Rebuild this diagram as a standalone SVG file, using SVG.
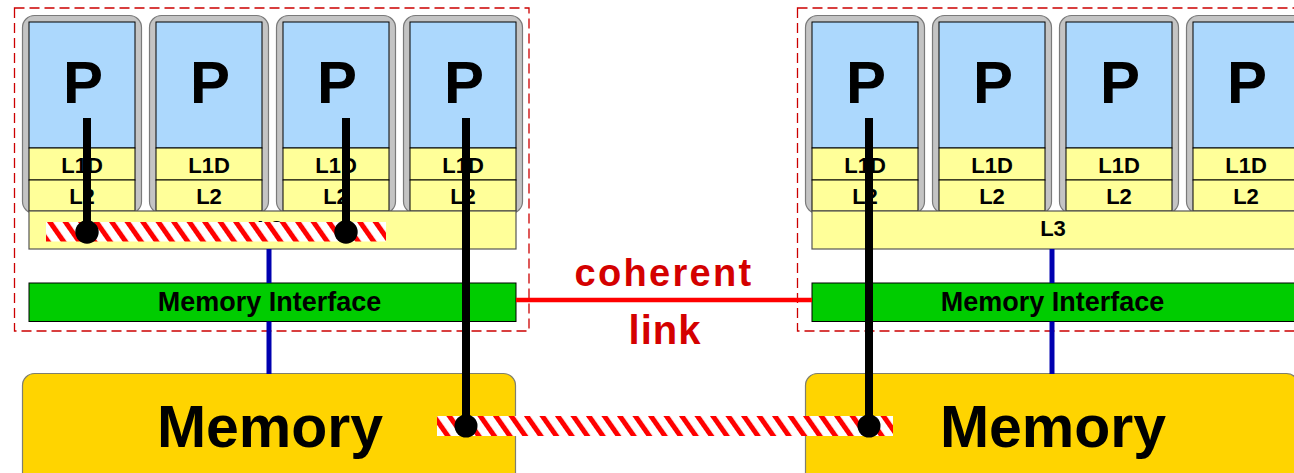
<svg xmlns="http://www.w3.org/2000/svg" width="1294" height="473" viewBox="0 0 1294 473">
<defs>
<pattern id="hatch" width="12.7" height="12.7" patternUnits="userSpaceOnUse" patternTransform="rotate(-35)">
<rect width="12.7" height="12.7" fill="#ffffff"/>
<rect width="5" height="12.7" fill="#ff0000"/>
</pattern>
<style>
text{font-family:"Liberation Sans",Arial,Helvetica,sans-serif;font-weight:bold;text-anchor:middle;fill:#000}
.chip{fill:none;stroke:#cc0000;stroke-width:1.3;stroke-dasharray:10 5}
.card{fill:#c4c4c4;stroke:#7a7a7a;stroke-width:1.2}
.core{fill:#acd8fd;stroke:#000;stroke-width:1}
.cache{fill:#ffff99;stroke:#000;stroke-width:1}
.l3{fill:#ffff99;stroke:#555;stroke-width:1.2}
.mif{fill:#00cc00;stroke:#000;stroke-width:1}
.mem{fill:#ffd400;stroke:#7f7f6f;stroke-width:1.2}
.p{font-size:60px}
.c{font-size:22px}
.mi{font-size:27px}
.mt{font-size:59px}
.lab{font-size:38px;fill:#d40000;letter-spacing:2.3px}
.bus{stroke:#0000b0;stroke-width:5}
.link{stroke:#ff0000;stroke-width:4.5}
.path{stroke:#000;stroke-width:8}
.hatch{fill:url(#hatch)}
</style>
</defs>

<g id="chip-left">
<rect class="chip" x="14.5" y="8" width="514.5" height="323"/>
</g>
<g id="chip-right">
<rect class="chip" x="797.5" y="8" width="514.5" height="323"/>
</g>

<g id="cpu-l0">
<rect class="card" x="22.5" y="15.5" width="119" height="198" rx="12"/>
<rect class="core" x="29" y="22" width="106" height="126"/>
<rect class="cache" x="29" y="148" width="106" height="32"/>
<rect class="cache" x="29" y="180" width="106" height="31"/>
<text class="p" x="83" y="103">P</text>
<text class="c" x="82" y="173">L1D</text>
<text class="c" x="82" y="204">L2</text>
</g>
<g id="cpu-l1">
<rect class="card" x="149.5" y="15.5" width="119" height="198" rx="12"/>
<rect class="core" x="156" y="22" width="106" height="126"/>
<rect class="cache" x="156" y="148" width="106" height="32"/>
<rect class="cache" x="156" y="180" width="106" height="31"/>
<text class="p" x="210" y="103">P</text>
<text class="c" x="209" y="173">L1D</text>
<text class="c" x="209" y="204">L2</text>
</g>
<g id="cpu-l2">
<rect class="card" x="276.5" y="15.5" width="119" height="198" rx="12"/>
<rect class="core" x="283" y="22" width="106" height="126"/>
<rect class="cache" x="283" y="148" width="106" height="32"/>
<rect class="cache" x="283" y="180" width="106" height="31"/>
<text class="p" x="337" y="103">P</text>
<text class="c" x="336" y="173">L1D</text>
<text class="c" x="336" y="204">L2</text>
</g>
<g id="cpu-l3">
<rect class="card" x="403.5" y="15.5" width="119" height="198" rx="12"/>
<rect class="core" x="410" y="22" width="106" height="126"/>
<rect class="cache" x="410" y="148" width="106" height="32"/>
<rect class="cache" x="410" y="180" width="106" height="31"/>
<text class="p" x="464" y="103">P</text>
<text class="c" x="463" y="173">L1D</text>
<text class="c" x="463" y="204">L2</text>
</g>
<g id="l3-left">
<rect class="l3" x="29" y="211" width="487" height="38"/>
<text class="c" x="270" y="236">L3</text>
</g>
<g id="mif-left">
<rect class="mif" x="29" y="283" width="487" height="38.5"/>
<text class="mi" x="269.5" y="310.5">Memory Interface</text>
</g>
<g id="mem-left">
<rect class="mem" x="22.5" y="373.5" width="493" height="120" rx="12"/>
<text class="mt" x="270" y="446.5">Memory</text>
</g>

<g id="cpu-r0">
<rect class="card" x="805.5" y="15.5" width="119" height="198" rx="12"/>
<rect class="core" x="812" y="22" width="106" height="126"/>
<rect class="cache" x="812" y="148" width="106" height="32"/>
<rect class="cache" x="812" y="180" width="106" height="31"/>
<text class="p" x="866" y="103">P</text>
<text class="c" x="865" y="173">L1D</text>
<text class="c" x="865" y="204">L2</text>
</g>
<g id="cpu-r1">
<rect class="card" x="932.5" y="15.5" width="119" height="198" rx="12"/>
<rect class="core" x="939" y="22" width="106" height="126"/>
<rect class="cache" x="939" y="148" width="106" height="32"/>
<rect class="cache" x="939" y="180" width="106" height="31"/>
<text class="p" x="993" y="103">P</text>
<text class="c" x="992" y="173">L1D</text>
<text class="c" x="992" y="204">L2</text>
</g>
<g id="cpu-r2">
<rect class="card" x="1059.5" y="15.5" width="119" height="198" rx="12"/>
<rect class="core" x="1066" y="22" width="106" height="126"/>
<rect class="cache" x="1066" y="148" width="106" height="32"/>
<rect class="cache" x="1066" y="180" width="106" height="31"/>
<text class="p" x="1120" y="103">P</text>
<text class="c" x="1119" y="173">L1D</text>
<text class="c" x="1119" y="204">L2</text>
</g>
<g id="cpu-r3">
<rect class="card" x="1186.5" y="15.5" width="119" height="198" rx="12"/>
<rect class="core" x="1193" y="22" width="106" height="126"/>
<rect class="cache" x="1193" y="148" width="106" height="32"/>
<rect class="cache" x="1193" y="180" width="106" height="31"/>
<text class="p" x="1247" y="103">P</text>
<text class="c" x="1246" y="173">L1D</text>
<text class="c" x="1246" y="204">L2</text>
</g>
<g id="l3-right">
<rect class="l3" x="812" y="211" width="487" height="38"/>
<text class="c" x="1053" y="236">L3</text>
</g>
<g id="mif-right">
<rect class="mif" x="812" y="283" width="487" height="38.5"/>
<text class="mi" x="1052.5" y="310.5">Memory Interface</text>
</g>
<g id="mem-right">
<rect class="mem" x="805.5" y="373.5" width="493" height="120" rx="12"/>
<text class="mt" x="1053" y="446.5">Memory</text>
</g>

<g id="label-coherent-link">
<text class="lab" x="664" y="286">coherent</text>
<text class="lab" x="665" y="344" style="font-size:40px;letter-spacing:1px">link</text>
</g>

<g id="connectors">
<line class="bus" x1="269" y1="249" x2="269" y2="283"/>
<line class="bus" x1="269" y1="321.5" x2="269" y2="374"/>
<line class="bus" x1="1052" y1="249" x2="1052" y2="283"/>
<line class="bus" x1="1052" y1="321.5" x2="1052" y2="374"/>
<line class="link" x1="516" y1="300" x2="812" y2="300"/>
<rect class="hatch" x="46" y="222" width="340" height="19.5"/>
<rect class="hatch" x="437" y="416" width="456" height="20"/>
<line class="path" x1="87" y1="118" x2="87" y2="232"/>
<circle cx="87" cy="232" r="11.7"/>
<line class="path" x1="346" y1="118" x2="346" y2="232"/>
<circle cx="346" cy="232" r="11.7"/>
<line class="path" x1="466" y1="118" x2="466" y2="426"/>
<circle cx="466" cy="426" r="11.5"/>
<line class="path" x1="869" y1="118" x2="869" y2="426"/>
<circle cx="869" cy="426" r="11.5"/>
</g>
</svg>
